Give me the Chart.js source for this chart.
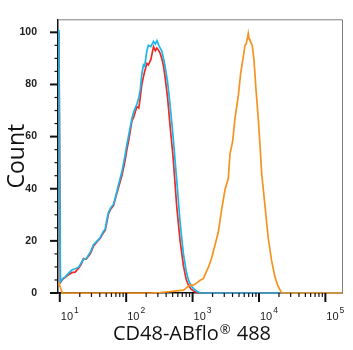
<!DOCTYPE html>
<html lang="en">
<head>
  <meta charset="UTF-8" />
  <title>CD48-ABflo 488 histogram</title>
  <script src="https://cdn.jsdelivr.net/npm/chart.js"></script>
  <style>
    html, body { margin: 0; padding: 0; background: #fff; }
    #wrap { width: 353px; height: 350px; }
  </style>
</head>
<body>
  <div id="wrap"><canvas id="grafico" width="353" height="350"></canvas></div>

  <script>
    // intensity (x) and count (y), one pair of arrays per curve
    const redX = [9.7, 10.2, 11, 12.1, 13.5, 15.2, 17, 19.2, 21, 22.8,
      25, 28.8, 32.2, 36, 40.6, 45, 48.3, 51, 54.2, 58,
      64.4, 70, 76.6, 86.1, 95, 102.5, 110, 122, 130, 145,
      155, 163, 172, 182, 190, 205, 216, 235, 258, 275,
      290, 310, 324, 344, 365, 385, 420, 459, 509, 578,
      649, 728, 800, 865, 950, 1028, 1150, 1297, 1500, 178000];
    const redY = [100, 4, 5.2, 6, 7, 7.8, 8, 9.5, 11, 13.2,
      13, 15, 18, 19.5, 21, 23, 24, 27, 30.5, 32,
      33.5, 37, 40.5, 45, 50, 55, 59, 66, 67.5, 71.5,
      71, 75, 80, 83, 85, 88, 87.5, 89.5, 94.5, 93,
      94, 93, 92, 90, 87, 83, 75, 64, 52, 33,
      20, 10.5, 5.3, 3, 1.5, 0.9, 0.2, 0, 0, 0];

    const cyanX = redX;
    const cyanY = [101, 4.2, 5.5, 6.2, 7.5, 8.8, 9.3, 9.9, 11.5, 13,
      13.2, 15.6, 18.5, 19.8, 21.2, 23.5, 24.5, 28, 31, 32.5,
      34, 37.5, 41.5, 46.5, 52, 57, 61, 67, 69.5, 72.5,
      75, 78, 84, 87.5, 87, 93, 95, 94.5, 96.5, 95.5,
      96.8, 95, 94, 92.8, 90, 87, 81, 72, 60, 43,
      27, 15, 8.5, 5, 2.8, 1.8, 0.7, 0.1, 0, 0];

    const orangeX = [9.6, 10.9, 230, 324, 459, 728, 911, 1028, 1170, 1297,
      1452, 1636, 1730, 1834, 1944, 2180, 2311, 2444, 2748, 3081,
      3453, 3662, 4018, 4352, 4883, 5306, 5807, 6155, 6400, 6666,
      6900, 7100, 7322, 7926, 8410, 9013, 9754, 10347, 10980, 11380,
      12310, 13800, 15520, 17400, 19510, 21920, 24000, 178000];
    const orangeY = [4, 0, 0, 0.2, 0.5, 1.1, 3, 3, 4, 4.9,
      5.5, 8.6, 9.8, 11.7, 13.5, 18.5, 21, 23.5, 32.2, 39.7,
      44, 53.4, 58.3, 67, 75.7, 84.4, 90.7, 95, 95.5, 97.5,
      99.6, 97.5, 96.9, 95, 89.4, 78.2, 67, 57, 45.9, 42,
      33.5, 21, 12.3, 6.1, 2.4, 0.1, 0, 0];

    // axis ticks
    const yTicks = [0, 20, 40, 60, 80, 100];
    const yMinorStep = 5;
    const xDecades = [10, 100, 1000, 10000, 100000];
    const xDecadeExp = ['1', '2', '3', '4', '5'];

    // x title pieces: text, registered mark (drawn raised), text
    const xTitleParts = ['CD48-ABflo', '®', ' 488'];
    const yTitle = 'Count';

    const toPoints = (xs, ys) => xs.map((x, i) => ({ x: x, y: ys[i] }));

    // ticks, x labels, x title and top/right frame
    const axisDecor = {
      id: 'axisDecor',
      beforeDatasetsDraw(chart) {
        const { ctx, chartArea: a } = chart;
        ctx.save();
        ctx.strokeStyle = '#808080';
        ctx.lineWidth = 1;
        ctx.beginPath();
        ctx.moveTo(a.left, a.top + 0.5);
        ctx.lineTo(a.right + 0.5, a.top + 0.5);
        ctx.lineTo(a.right + 0.5, a.bottom);
        ctx.stroke();
        ctx.restore();
      },
      afterDraw(chart) {
        const { ctx, chartArea: a } = chart;
        const xs = chart.scales.x, ys = chart.scales.y;
        ctx.save();
        ctx.strokeStyle = '#111';

        // x ticks: decades long, 2..9 short
        xDecades.forEach(d => {
          for (let k = 1; k <= 9; k++) {
            const v = d * k;
            if (v > xs.max) break;
            const px = xs.getPixelForValue(v);
            ctx.lineWidth = k === 1 ? 2 : 1.2;
            ctx.beginPath();
            ctx.moveTo(px, a.bottom);
            ctx.lineTo(px, a.bottom + (k === 1 ? 9 : 4));
            ctx.stroke();
          }
        });

        // y ticks
        for (let v = 0; v <= 100; v += yMinorStep) {
          const py = ys.getPixelForValue(v);
          const major = yTicks.includes(v);
          ctx.lineWidth = major ? 2 : 1.2;
          ctx.beginPath();
          ctx.moveTo(a.left - (major ? 8 : 3.5), py);
          ctx.lineTo(a.left, py);
          ctx.stroke();
        }

        // x labels 10^n
        ctx.fillStyle = '#222';
        ctx.textBaseline = 'alphabetic';
        ctx.textAlign = 'left';
        xDecades.forEach((d, i) => {
          const px = xs.getPixelForValue(d);
          ctx.font = '11px "Liberation Sans", Arial, sans-serif';
          ctx.fillText('10', px + 1, 320);
          const w = ctx.measureText('10').width;
          ctx.font = '8.5px "Liberation Sans", Arial, sans-serif';
          ctx.fillText(xDecadeExp[i], px + w + 2, 313);
        });

        // x title
        const big = '20px "Open Sans", sans-serif';
        const small = '13px "Open Sans", sans-serif';
        ctx.fillStyle = '#111';
        ctx.font = big;
        const w0 = ctx.measureText(xTitleParts[0]).width;
        const w2 = ctx.measureText(xTitleParts[2]).width;
        ctx.font = small;
        const w1 = ctx.measureText(xTitleParts[1]).width + 2;
        let tx = 192 - (w0 + w1 + w2) / 2;
        ctx.font = big;
        ctx.fillText(xTitleParts[0], tx, 340);
        tx += w0 + 1;
        ctx.font = small;
        ctx.fillText(xTitleParts[1], tx, 334);
        tx += w1 - 1;
        ctx.font = big;
        ctx.fillText(xTitleParts[2], tx, 340);
        ctx.restore();
      }
    };

    const ctx = document.getElementById('grafico').getContext('2d');
    new Chart(ctx, {
      type: 'line',
      data: {
        datasets: [
          {
            label: 'CD48-ABflo 488',
            data: toPoints(orangeX, orangeY),
            borderColor: '#f7921e',
            borderWidth: 1.7,
            pointRadius: 0,
            clip: 4
          },
          {
            label: 'cyan',
            data: toPoints(cyanX, cyanY),
            borderColor: '#1db5ea',
            borderWidth: 1.7,
            pointRadius: 0,
            clip: 4
          },
          {
            label: 'red',
            data: toPoints(redX, redY),
            borderColor: '#ec2a24',
            borderWidth: 1.7,
            pointRadius: 0,
            clip: 4
          }
        ]
      },
      options: {
        responsive: false,
        animation: false,
        devicePixelRatio: 1,
        layout: { padding: { left: 0, top: 12, right: 11, bottom: 0 } },
        plugins: { legend: { display: false }, tooltip: { enabled: false } },
        scales: {
          x: {
            type: 'logarithmic',
            min: 9.4,
            max: 178000,
            grid: { display: false },
            border: { display: true, color: '#111', width: 1.5 },
            ticks: { display: false },
            afterFit: s => { s.height = 57; }
          },
          y: {
            min: 0,
            max: 105,
            grid: { display: false },
            border: { display: true, color: '#111', width: 1.5 },
            afterBuildTicks: s => { s.ticks = yTicks.map(v => ({ value: v })); },
            ticks: {
              padding: 13,
              color: '#222',
              font: { family: '"Liberation Sans", Arial, sans-serif', size: 10.5, weight: 'bold' }
            },
            title: {
              display: true,
              text: yTitle,
              color: '#111',
              font: { family: '"Open Sans", sans-serif', size: 23 },
              padding: { top: 4, bottom: 0 }
            },
            afterFit: s => { s.width = 58; }
          }
        }
      },
      plugins: [axisDecor]
    });
  </script>
</body>
</html>
